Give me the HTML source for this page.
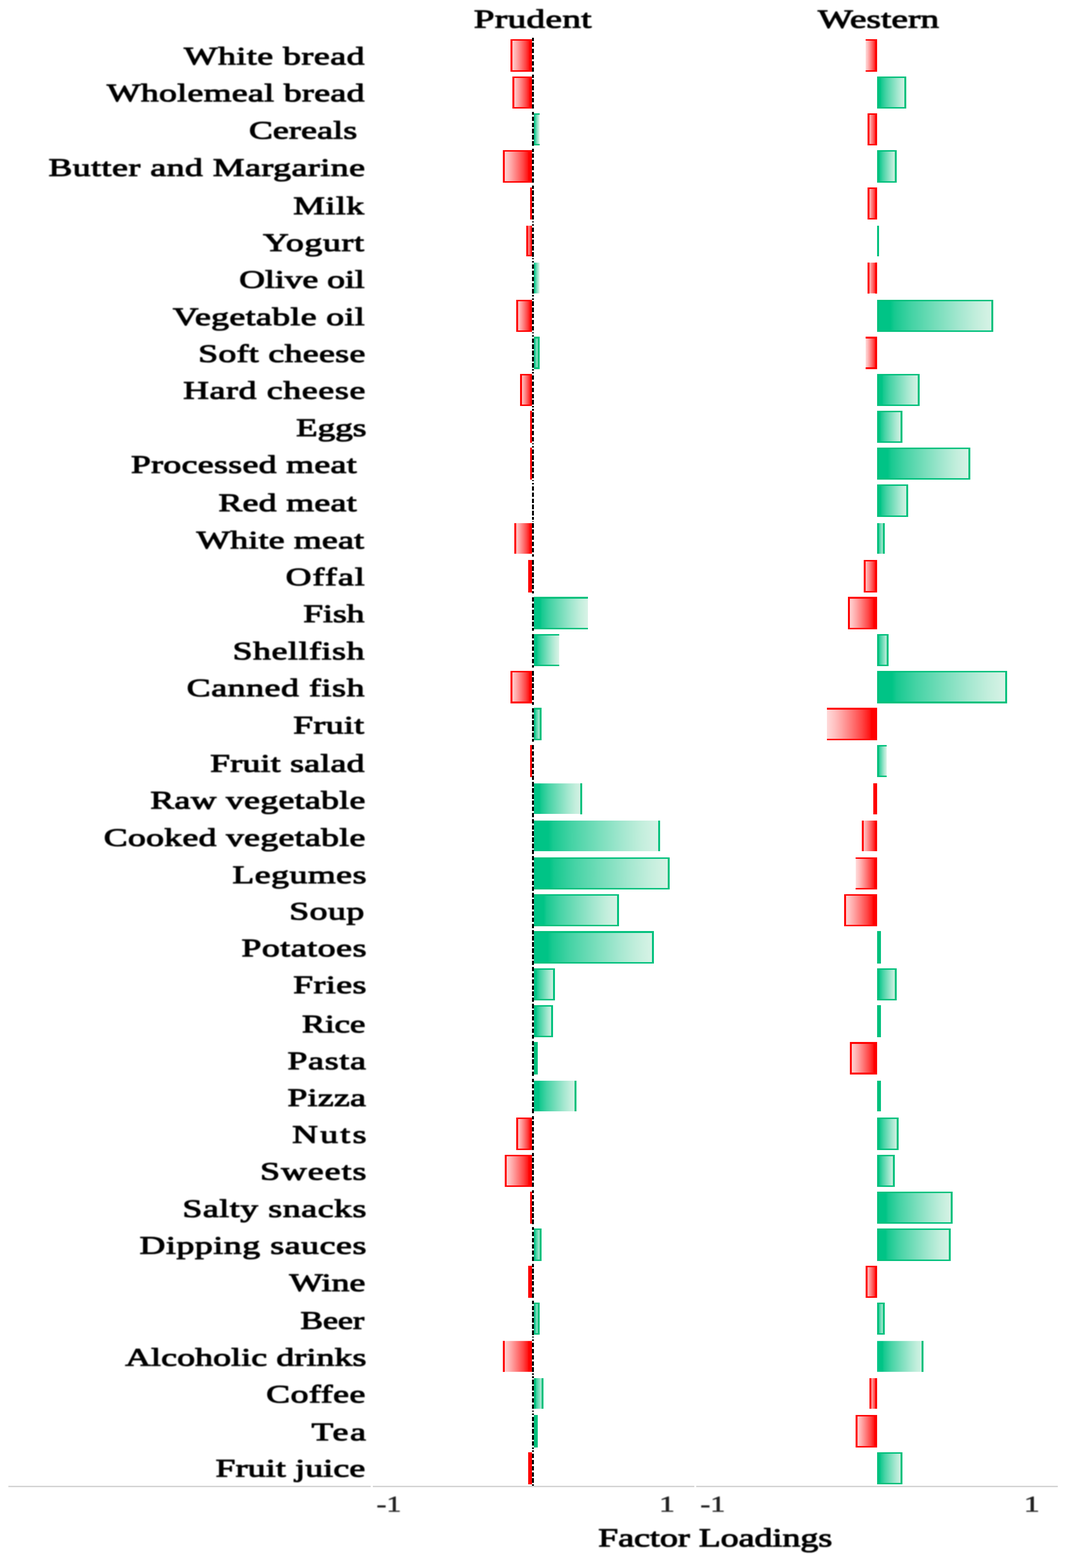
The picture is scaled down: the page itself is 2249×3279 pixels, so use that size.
<!DOCTYPE html>
<html lang="en"><head><meta charset="utf-8"><title>Factor Loadings: Prudent and Western dietary patterns</title>
<style>html,body{margin:0;padding:0;background:#fff}svg{display:block}text{font-family:"Liberation Serif",serif;white-space:pre}.b{font-weight:normal;fill:#000;stroke:#000;stroke-width:1.7px;stroke-linejoin:round}.t{font-weight:normal;fill:#222;stroke:#222;stroke-width:0.9px}</style></head><body>
<svg width="2249" height="3279" viewBox="0 0 2249 3279">
<defs><linearGradient id="g" x1="0" y1="0" x2="1" y2="0"><stop offset="0" stop-color="#00c486"/><stop offset="0.115" stop-color="#00c486"/><stop offset="0.15" stop-color="#17c990"/><stop offset="0.3" stop-color="#45d3a5"/><stop offset="0.5" stop-color="#75ddba"/><stop offset="0.7" stop-color="#a3e7cf"/><stop offset="0.85" stop-color="#c2eedc"/><stop offset="1" stop-color="#daf3e7"/></linearGradient><linearGradient id="r" x1="1" y1="0" x2="0" y2="0"><stop offset="0" stop-color="#ff0000"/><stop offset="0.115" stop-color="#ff0000"/><stop offset="0.15" stop-color="#ff1717"/><stop offset="0.3" stop-color="#ff4545"/><stop offset="0.5" stop-color="#ff7676"/><stop offset="0.7" stop-color="#ffa4a4"/><stop offset="0.85" stop-color="#ffc3c3"/><stop offset="1" stop-color="#ffdbdb"/></linearGradient><filter id="soft" x="-2%" y="-2%" width="104%" height="104%"><feGaussianBlur stdDeviation="1.1"/></filter></defs>
<rect width="2249" height="3279" fill="#fff"/>
<rect x="17.5" y="3107" width="758" height="3" fill="#d4d4d4"/>
<rect x="780" y="3107" width="672.6" height="3" fill="#d4d4d4"/>
<rect x="1456.5" y="3107" width="756.5" height="3" fill="#d4d4d4"/>
<g shape-rendering="crispEdges">
<svg x="1068.2" y="82.1" width="44.8" height="67.9"><rect x="-0" width="44.8" height="67.9" fill="url(#r)"/></svg>
<rect x="1068.2" y="82.1" width="44.8" height="3.2" fill="#ff0000"/>
<rect x="1068.2" y="146.8" width="44.8" height="3.2" fill="#ff0000"/>
<rect x="1068.2" y="82.1" width="4" height="67.9" fill="#ff0000"/>
<svg x="1810.8" y="82.1" width="24.2" height="67.9"><rect x="-0" width="24.2" height="67.9" fill="url(#r)"/></svg>
<rect x="1810.8" y="82.1" width="24.2" height="3.2" fill="#ff0000"/>
<rect x="1810.8" y="146.8" width="24.2" height="3.2" fill="#ff0000"/>
<rect x="1831" y="82.1" width="4" height="67.9" fill="#ff0000"/>
<svg x="1072.2" y="159.9" width="40.8" height="67.2"><rect x="-0" width="40.8" height="67.2" fill="url(#r)"/></svg>
<rect x="1072.2" y="159.9" width="40.8" height="3.2" fill="#ff0000"/>
<rect x="1072.2" y="223.9" width="40.8" height="3.2" fill="#ff0000"/>
<rect x="1072.2" y="159.9" width="4" height="67.2" fill="#ff0000"/>
<svg x="1835" y="159.9" width="60.9" height="67.2"><rect x="0" width="60.9" height="67.2" fill="url(#g)"/></svg>
<rect x="1835" y="159.9" width="60.9" height="3.2" fill="#00c07c"/>
<rect x="1835" y="223.9" width="60.9" height="3.2" fill="#00c07c"/>
<rect x="1835" y="159.9" width="4" height="67.2" fill="#00c07c"/>
<rect x="1891.9" y="159.9" width="4" height="67.2" fill="#00c07c"/>
<svg x="1117" y="237.2" width="11.9" height="67"><rect x="0" width="11.9" height="67" fill="url(#g)"/></svg>
<rect x="1117" y="237.2" width="11.9" height="3.2" fill="#00c07c"/>
<rect x="1117" y="301" width="11.9" height="3.2" fill="#00c07c"/>
<svg x="1814.9" y="237.2" width="20.1" height="67"><rect x="-0" width="20.1" height="67" fill="url(#r)"/></svg>
<rect x="1814.9" y="237.2" width="20.1" height="3.2" fill="#ff0000"/>
<rect x="1814.9" y="301" width="20.1" height="3.2" fill="#ff0000"/>
<rect x="1814.9" y="237.2" width="4" height="67" fill="#ff0000"/>
<rect x="1831" y="237.2" width="4" height="67" fill="#ff0000"/>
<svg x="1052.1" y="314.2" width="60.9" height="67.5"><rect x="-0" width="60.9" height="67.5" fill="url(#r)"/></svg>
<rect x="1052.1" y="314.2" width="60.9" height="3.2" fill="#ff0000"/>
<rect x="1052.1" y="378.5" width="60.9" height="3.2" fill="#ff0000"/>
<rect x="1052.1" y="314.2" width="4" height="67.5" fill="#ff0000"/>
<svg x="1835" y="314.2" width="40.6" height="67.5"><rect x="0" width="40.6" height="67.5" fill="url(#g)"/></svg>
<rect x="1835" y="314.2" width="40.6" height="3.2" fill="#00c07c"/>
<rect x="1835" y="378.5" width="40.6" height="3.2" fill="#00c07c"/>
<rect x="1835" y="314.2" width="4" height="67.5" fill="#00c07c"/>
<rect x="1871.6" y="314.2" width="4" height="67.5" fill="#00c07c"/>
<rect x="1108.8" y="391.7" width="4.2" height="67.3" fill="#ff0000"/>
<svg x="1814.9" y="391.7" width="20.1" height="67.3"><rect x="-0" width="20.1" height="67.3" fill="url(#r)"/></svg>
<rect x="1814.9" y="391.7" width="20.1" height="3.2" fill="#ff0000"/>
<rect x="1814.9" y="455.8" width="20.1" height="3.2" fill="#ff0000"/>
<rect x="1814.9" y="391.7" width="4" height="67.3" fill="#ff0000"/>
<rect x="1831" y="391.7" width="4" height="67.3" fill="#ff0000"/>
<svg x="1100.8" y="472" width="12.2" height="64.3"><rect x="-0" width="12.2" height="64.3" fill="url(#r)"/></svg>
<rect x="1100.8" y="533.1" width="12.2" height="3.2" fill="#ff0000"/>
<rect x="1100.8" y="472" width="4" height="64.3" fill="#ff0000"/>
<rect x="1835" y="472" width="4" height="64.3" fill="#00c07c"/>
<svg x="1117" y="549.3" width="11.9" height="64.3"><rect x="0" width="11.9" height="64.3" fill="url(#g)"/></svg>
<svg x="1814.9" y="549.3" width="20.1" height="64.3"><rect x="-0" width="20.1" height="64.3" fill="url(#r)"/></svg>
<rect x="1814.9" y="549.3" width="4" height="64.3" fill="#ff0000"/>
<rect x="1831" y="549.3" width="4" height="64.3" fill="#ff0000"/>
<svg x="1080.2" y="627" width="32.8" height="67.3"><rect x="-0" width="32.8" height="67.3" fill="url(#r)"/></svg>
<rect x="1080.2" y="627" width="32.8" height="3.2" fill="#ff0000"/>
<rect x="1080.2" y="691.1" width="32.8" height="3.2" fill="#ff0000"/>
<rect x="1080.2" y="627" width="4" height="67.3" fill="#ff0000"/>
<svg x="1835" y="627" width="243.3" height="67.3"><rect x="0" width="243.3" height="67.3" fill="url(#g)"/></svg>
<rect x="1835" y="627" width="243.3" height="3.2" fill="#00c07c"/>
<rect x="1835" y="691.1" width="243.3" height="3.2" fill="#00c07c"/>
<rect x="1835" y="627" width="4" height="67.3" fill="#00c07c"/>
<rect x="2074.3" y="627" width="4" height="67.3" fill="#00c07c"/>
<svg x="1117" y="704.3" width="11.9" height="67.3"><rect x="0" width="11.9" height="67.3" fill="url(#g)"/></svg>
<rect x="1117" y="704.3" width="11.9" height="3.2" fill="#00c07c"/>
<rect x="1117" y="768.4" width="11.9" height="3.2" fill="#00c07c"/>
<rect x="1124.9" y="704.3" width="4" height="67.3" fill="#00c07c"/>
<svg x="1810.8" y="704.3" width="24.2" height="67.3"><rect x="-0" width="24.2" height="67.3" fill="url(#r)"/></svg>
<rect x="1810.8" y="704.3" width="24.2" height="3.2" fill="#ff0000"/>
<rect x="1810.8" y="768.4" width="24.2" height="3.2" fill="#ff0000"/>
<rect x="1831" y="704.3" width="4" height="67.3" fill="#ff0000"/>
<svg x="1088.3" y="781.6" width="24.7" height="67.3"><rect x="-0" width="24.7" height="67.3" fill="url(#r)"/></svg>
<rect x="1088.3" y="781.6" width="24.7" height="3.2" fill="#ff0000"/>
<rect x="1088.3" y="845.7" width="24.7" height="3.2" fill="#ff0000"/>
<rect x="1088.3" y="781.6" width="4" height="67.3" fill="#ff0000"/>
<svg x="1835" y="781.6" width="89" height="67.3"><rect x="0" width="89" height="67.3" fill="url(#g)"/></svg>
<rect x="1835" y="781.6" width="89" height="3.2" fill="#00c07c"/>
<rect x="1835" y="845.7" width="89" height="3.2" fill="#00c07c"/>
<rect x="1835" y="781.6" width="4" height="67.3" fill="#00c07c"/>
<rect x="1920" y="781.6" width="4" height="67.3" fill="#00c07c"/>
<rect x="1108.8" y="858.9" width="4.2" height="67.2" fill="#ff0000"/>
<svg x="1835" y="858.9" width="52.9" height="67.2"><rect x="0" width="52.9" height="67.2" fill="url(#g)"/></svg>
<rect x="1835" y="858.9" width="52.9" height="3.2" fill="#00c07c"/>
<rect x="1835" y="922.9" width="52.9" height="3.2" fill="#00c07c"/>
<rect x="1835" y="858.9" width="4" height="67.2" fill="#00c07c"/>
<rect x="1883.9" y="858.9" width="4" height="67.2" fill="#00c07c"/>
<rect x="1108.8" y="936.2" width="4.2" height="67.2" fill="#ff0000"/>
<svg x="1835" y="936.2" width="194.9" height="67.2"><rect x="0" width="194.9" height="67.2" fill="url(#g)"/></svg>
<rect x="1835" y="936.2" width="194.9" height="3.2" fill="#00c07c"/>
<rect x="1835" y="1000.2" width="194.9" height="3.2" fill="#00c07c"/>
<rect x="1835" y="936.2" width="4" height="67.2" fill="#00c07c"/>
<rect x="2025.9" y="936.2" width="4" height="67.2" fill="#00c07c"/>
<svg x="1835" y="1013.2" width="64.9" height="67.5"><rect x="0" width="64.9" height="67.5" fill="url(#g)"/></svg>
<rect x="1835" y="1013.2" width="64.9" height="3.2" fill="#00c07c"/>
<rect x="1835" y="1077.5" width="64.9" height="3.2" fill="#00c07c"/>
<rect x="1835" y="1013.2" width="4" height="67.5" fill="#00c07c"/>
<rect x="1895.9" y="1013.2" width="4" height="67.5" fill="#00c07c"/>
<svg x="1076.2" y="1093.8" width="36.8" height="64.2"><rect x="-0" width="36.8" height="64.2" fill="url(#r)"/></svg>
<rect x="1076.2" y="1093.8" width="4" height="64.2" fill="#ff0000"/>
<svg x="1835" y="1093.8" width="16.2" height="64.2"><rect x="0" width="16.2" height="64.2" fill="url(#g)"/></svg>
<rect x="1835" y="1093.8" width="4" height="64.2" fill="#00c07c"/>
<rect x="1847.2" y="1093.8" width="4" height="64.2" fill="#00c07c"/>
<rect x="1104.8" y="1171" width="8.2" height="67.7" fill="#ff0000"/>
<svg x="1806.8" y="1171" width="28.2" height="67.7"><rect x="-0" width="28.2" height="67.7" fill="url(#r)"/></svg>
<rect x="1806.8" y="1171" width="28.2" height="3.2" fill="#ff0000"/>
<rect x="1806.8" y="1235.5" width="28.2" height="3.2" fill="#ff0000"/>
<rect x="1806.8" y="1171" width="4" height="67.7" fill="#ff0000"/>
<rect x="1831" y="1171" width="4" height="67.7" fill="#ff0000"/>
<svg x="1117" y="1248.3" width="113.3" height="67.5"><rect x="0" width="113.3" height="67.5" fill="url(#g)"/></svg>
<rect x="1117" y="1248.3" width="113.3" height="3.2" fill="#00c07c"/>
<rect x="1117" y="1312.6" width="113.3" height="3.2" fill="#00c07c"/>
<svg x="1774.2" y="1248.3" width="60.8" height="67.5"><rect x="-0" width="60.8" height="67.5" fill="url(#r)"/></svg>
<rect x="1774.2" y="1248.3" width="60.8" height="3.2" fill="#ff0000"/>
<rect x="1774.2" y="1312.6" width="60.8" height="3.2" fill="#ff0000"/>
<rect x="1774.2" y="1248.3" width="4" height="67.5" fill="#ff0000"/>
<rect x="1831" y="1248.3" width="4" height="67.5" fill="#ff0000"/>
<svg x="1117" y="1325.8" width="52.8" height="67.2"><rect x="0" width="52.8" height="67.2" fill="url(#g)"/></svg>
<rect x="1117" y="1325.8" width="52.8" height="3.2" fill="#00c07c"/>
<rect x="1117" y="1389.8" width="52.8" height="3.2" fill="#00c07c"/>
<svg x="1835" y="1325.8" width="24.3" height="67.2"><rect x="0" width="24.3" height="67.2" fill="url(#g)"/></svg>
<rect x="1835" y="1325.8" width="24.3" height="3.2" fill="#00c07c"/>
<rect x="1835" y="1389.8" width="24.3" height="3.2" fill="#00c07c"/>
<rect x="1835" y="1325.8" width="4" height="67.2" fill="#00c07c"/>
<rect x="1855.3" y="1325.8" width="4" height="67.2" fill="#00c07c"/>
<svg x="1068.2" y="1403" width="44.8" height="67.6"><rect x="-0" width="44.8" height="67.6" fill="url(#r)"/></svg>
<rect x="1068.2" y="1403" width="44.8" height="3.2" fill="#ff0000"/>
<rect x="1068.2" y="1467.4" width="44.8" height="3.2" fill="#ff0000"/>
<rect x="1068.2" y="1403" width="4" height="67.6" fill="#ff0000"/>
<svg x="1835" y="1403" width="271.9" height="67.6"><rect x="0" width="271.9" height="67.6" fill="url(#g)"/></svg>
<rect x="1835" y="1403" width="271.9" height="3.2" fill="#00c07c"/>
<rect x="1835" y="1467.4" width="271.9" height="3.2" fill="#00c07c"/>
<rect x="1835" y="1403" width="4" height="67.6" fill="#00c07c"/>
<rect x="2102.9" y="1403" width="4" height="67.6" fill="#00c07c"/>
<svg x="1117" y="1480.4" width="15.9" height="67.5"><rect x="0" width="15.9" height="67.5" fill="url(#g)"/></svg>
<rect x="1117" y="1480.4" width="15.9" height="3.2" fill="#00c07c"/>
<rect x="1117" y="1544.7" width="15.9" height="3.2" fill="#00c07c"/>
<rect x="1128.9" y="1480.4" width="4" height="67.5" fill="#00c07c"/>
<svg x="1729.5" y="1480.4" width="105.5" height="67.5"><rect x="-0" width="105.5" height="67.5" fill="url(#r)"/></svg>
<rect x="1729.5" y="1480.4" width="105.5" height="3.2" fill="#ff0000"/>
<rect x="1729.5" y="1544.7" width="105.5" height="3.2" fill="#ff0000"/>
<rect x="1108.8" y="1557.9" width="4.2" height="67.3" fill="#ff0000"/>
<svg x="1835" y="1557.9" width="20.3" height="67.3"><rect x="0" width="20.3" height="67.3" fill="url(#g)"/></svg>
<rect x="1835" y="1557.9" width="20.3" height="3.2" fill="#00c07c"/>
<rect x="1835" y="1622" width="20.3" height="3.2" fill="#00c07c"/>
<rect x="1835" y="1557.9" width="4" height="67.3" fill="#00c07c"/>
<svg x="1117" y="1638.2" width="101.2" height="64.3"><rect x="0" width="101.2" height="64.3" fill="url(#g)"/></svg>
<rect x="1214.2" y="1638.2" width="4" height="64.3" fill="#00c07c"/>
<rect x="1826.9" y="1638.2" width="8.1" height="64.3" fill="#ff0000"/>
<svg x="1117" y="1715.6" width="263.8" height="64.4"><rect x="0" width="263.8" height="64.4" fill="url(#g)"/></svg>
<rect x="1376.8" y="1715.6" width="4" height="64.4" fill="#00c07c"/>
<svg x="1802.8" y="1715.6" width="32.2" height="64.4"><rect x="-0" width="32.2" height="64.4" fill="url(#r)"/></svg>
<rect x="1802.8" y="1715.6" width="4" height="64.4" fill="#ff0000"/>
<svg x="1117" y="1792.8" width="283.9" height="67.3"><rect x="0" width="283.9" height="67.3" fill="url(#g)"/></svg>
<rect x="1117" y="1792.8" width="283.9" height="3.2" fill="#00c07c"/>
<rect x="1117" y="1856.9" width="283.9" height="3.2" fill="#00c07c"/>
<rect x="1396.9" y="1792.8" width="4" height="67.3" fill="#00c07c"/>
<svg x="1790.3" y="1792.8" width="44.7" height="67.3"><rect x="-0" width="44.7" height="67.3" fill="url(#r)"/></svg>
<rect x="1790.3" y="1792.8" width="44.7" height="3.2" fill="#ff0000"/>
<rect x="1790.3" y="1856.9" width="44.7" height="3.2" fill="#ff0000"/>
<rect x="1831" y="1792.8" width="4" height="67.3" fill="#ff0000"/>
<svg x="1117" y="1870.1" width="178" height="67.3"><rect x="0" width="178" height="67.3" fill="url(#g)"/></svg>
<rect x="1117" y="1870.1" width="178" height="3.2" fill="#00c07c"/>
<rect x="1117" y="1934.2" width="178" height="3.2" fill="#00c07c"/>
<rect x="1291" y="1870.1" width="4" height="67.3" fill="#00c07c"/>
<svg x="1766.2" y="1870.1" width="68.8" height="67.3"><rect x="-0" width="68.8" height="67.3" fill="url(#r)"/></svg>
<rect x="1766.2" y="1870.1" width="68.8" height="3.2" fill="#ff0000"/>
<rect x="1766.2" y="1934.2" width="68.8" height="3.2" fill="#ff0000"/>
<rect x="1766.2" y="1870.1" width="4" height="67.3" fill="#ff0000"/>
<rect x="1831" y="1870.1" width="4" height="67.3" fill="#ff0000"/>
<svg x="1117" y="1947.4" width="251.3" height="67.5"><rect x="0" width="251.3" height="67.5" fill="url(#g)"/></svg>
<rect x="1117" y="1947.4" width="251.3" height="3.2" fill="#00c07c"/>
<rect x="1117" y="2011.7" width="251.3" height="3.2" fill="#00c07c"/>
<rect x="1364.3" y="1947.4" width="4" height="67.5" fill="#00c07c"/>
<rect x="1835" y="1947.4" width="8" height="67.5" fill="#00c07c"/>
<svg x="1117" y="2025" width="44.3" height="67"><rect x="0" width="44.3" height="67" fill="url(#g)"/></svg>
<rect x="1117" y="2025" width="44.3" height="3.2" fill="#00c07c"/>
<rect x="1117" y="2088.8" width="44.3" height="3.2" fill="#00c07c"/>
<rect x="1157.3" y="2025" width="4" height="67" fill="#00c07c"/>
<svg x="1835" y="2025" width="40.6" height="67"><rect x="0" width="40.6" height="67" fill="url(#g)"/></svg>
<rect x="1835" y="2025" width="40.6" height="3.2" fill="#00c07c"/>
<rect x="1835" y="2088.8" width="40.6" height="3.2" fill="#00c07c"/>
<rect x="1835" y="2025" width="4" height="67" fill="#00c07c"/>
<rect x="1871.6" y="2025" width="4" height="67" fill="#00c07c"/>
<svg x="1117" y="2102" width="40.3" height="67.3"><rect x="0" width="40.3" height="67.3" fill="url(#g)"/></svg>
<rect x="1117" y="2102" width="40.3" height="3.2" fill="#00c07c"/>
<rect x="1117" y="2166.1" width="40.3" height="3.2" fill="#00c07c"/>
<rect x="1153.3" y="2102" width="4" height="67.3" fill="#00c07c"/>
<rect x="1835" y="2102" width="8" height="67.3" fill="#00c07c"/>
<rect x="1117" y="2179.3" width="7.9" height="67.2" fill="#00c07c"/>
<svg x="1778.2" y="2179.3" width="56.8" height="67.2"><rect x="-0" width="56.8" height="67.2" fill="url(#r)"/></svg>
<rect x="1778.2" y="2179.3" width="56.8" height="3.2" fill="#ff0000"/>
<rect x="1778.2" y="2243.3" width="56.8" height="3.2" fill="#ff0000"/>
<rect x="1778.2" y="2179.3" width="4" height="67.2" fill="#ff0000"/>
<rect x="1831" y="2179.3" width="4" height="67.2" fill="#ff0000"/>
<svg x="1117" y="2259.8" width="89" height="64.5"><rect x="0" width="89" height="64.5" fill="url(#g)"/></svg>
<rect x="1202" y="2259.8" width="4" height="64.5" fill="#00c07c"/>
<rect x="1835" y="2259.8" width="8" height="64.5" fill="#00c07c"/>
<svg x="1080.2" y="2337.1" width="32.8" height="67.8"><rect x="-0" width="32.8" height="67.8" fill="url(#r)"/></svg>
<rect x="1080.2" y="2337.1" width="32.8" height="3.2" fill="#ff0000"/>
<rect x="1080.2" y="2401.7" width="32.8" height="3.2" fill="#ff0000"/>
<rect x="1080.2" y="2337.1" width="4" height="67.8" fill="#ff0000"/>
<svg x="1835" y="2337.1" width="44.6" height="67.8"><rect x="0" width="44.6" height="67.8" fill="url(#g)"/></svg>
<rect x="1835" y="2337.1" width="44.6" height="3.2" fill="#00c07c"/>
<rect x="1835" y="2401.7" width="44.6" height="3.2" fill="#00c07c"/>
<rect x="1835" y="2337.1" width="4" height="67.8" fill="#00c07c"/>
<rect x="1875.6" y="2337.1" width="4" height="67.8" fill="#00c07c"/>
<svg x="1056.1" y="2414.7" width="56.9" height="67.5"><rect x="-0" width="56.9" height="67.5" fill="url(#r)"/></svg>
<rect x="1056.1" y="2414.7" width="56.9" height="3.2" fill="#ff0000"/>
<rect x="1056.1" y="2479" width="56.9" height="3.2" fill="#ff0000"/>
<rect x="1056.1" y="2414.7" width="4" height="67.5" fill="#ff0000"/>
<svg x="1835" y="2414.7" width="36.6" height="67.5"><rect x="0" width="36.6" height="67.5" fill="url(#g)"/></svg>
<rect x="1835" y="2414.7" width="36.6" height="3.2" fill="#00c07c"/>
<rect x="1835" y="2479" width="36.6" height="3.2" fill="#00c07c"/>
<rect x="1835" y="2414.7" width="4" height="67.5" fill="#00c07c"/>
<rect x="1867.6" y="2414.7" width="4" height="67.5" fill="#00c07c"/>
<rect x="1108.8" y="2492" width="4.2" height="67.4" fill="#ff0000"/>
<svg x="1835" y="2492" width="158.3" height="67.4"><rect x="0" width="158.3" height="67.4" fill="url(#g)"/></svg>
<rect x="1835" y="2492" width="158.3" height="3.2" fill="#00c07c"/>
<rect x="1835" y="2556.2" width="158.3" height="3.2" fill="#00c07c"/>
<rect x="1835" y="2492" width="4" height="67.4" fill="#00c07c"/>
<rect x="1989.3" y="2492" width="4" height="67.4" fill="#00c07c"/>
<svg x="1117" y="2569.2" width="15.9" height="67.5"><rect x="0" width="15.9" height="67.5" fill="url(#g)"/></svg>
<rect x="1117" y="2569.2" width="15.9" height="3.2" fill="#00c07c"/>
<rect x="1117" y="2633.5" width="15.9" height="3.2" fill="#00c07c"/>
<rect x="1128.9" y="2569.2" width="4" height="67.5" fill="#00c07c"/>
<svg x="1835" y="2569.2" width="154.3" height="67.5"><rect x="0" width="154.3" height="67.5" fill="url(#g)"/></svg>
<rect x="1835" y="2569.2" width="154.3" height="3.2" fill="#00c07c"/>
<rect x="1835" y="2633.5" width="154.3" height="3.2" fill="#00c07c"/>
<rect x="1835" y="2569.2" width="4" height="67.5" fill="#00c07c"/>
<rect x="1985.3" y="2569.2" width="4" height="67.5" fill="#00c07c"/>
<rect x="1104.8" y="2646.5" width="8.2" height="67.5" fill="#ff0000"/>
<svg x="1810.8" y="2646.5" width="24.2" height="67.5"><rect x="-0" width="24.2" height="67.5" fill="url(#r)"/></svg>
<rect x="1810.8" y="2646.5" width="24.2" height="3.2" fill="#ff0000"/>
<rect x="1810.8" y="2710.8" width="24.2" height="3.2" fill="#ff0000"/>
<rect x="1810.8" y="2646.5" width="4" height="67.5" fill="#ff0000"/>
<rect x="1831" y="2646.5" width="4" height="67.5" fill="#ff0000"/>
<svg x="1117" y="2723.8" width="11.9" height="67.5"><rect x="0" width="11.9" height="67.5" fill="url(#g)"/></svg>
<rect x="1117" y="2723.8" width="11.9" height="3.2" fill="#00c07c"/>
<rect x="1117" y="2788.1" width="11.9" height="3.2" fill="#00c07c"/>
<rect x="1124.9" y="2723.8" width="4" height="67.5" fill="#00c07c"/>
<svg x="1835" y="2723.8" width="16.2" height="67.5"><rect x="0" width="16.2" height="67.5" fill="url(#g)"/></svg>
<rect x="1835" y="2723.8" width="16.2" height="3.2" fill="#00c07c"/>
<rect x="1835" y="2788.1" width="16.2" height="3.2" fill="#00c07c"/>
<rect x="1835" y="2723.8" width="4" height="67.5" fill="#00c07c"/>
<rect x="1847.2" y="2723.8" width="4" height="67.5" fill="#00c07c"/>
<svg x="1052.1" y="2804.3" width="60.9" height="64.5"><rect x="-0" width="60.9" height="64.5" fill="url(#r)"/></svg>
<rect x="1052.1" y="2804.3" width="4" height="64.5" fill="#ff0000"/>
<svg x="1835" y="2804.3" width="97.3" height="64.5"><rect x="0" width="97.3" height="64.5" fill="url(#g)"/></svg>
<rect x="1928.3" y="2804.3" width="4" height="64.5" fill="#00c07c"/>
<svg x="1117" y="2881.9" width="20.2" height="64.2"><rect x="0" width="20.2" height="64.2" fill="url(#g)"/></svg>
<rect x="1117" y="2881.9" width="4" height="64.2" fill="#00c07c"/>
<rect x="1133.2" y="2881.9" width="4" height="64.2" fill="#00c07c"/>
<svg x="1818.9" y="2881.9" width="16.1" height="64.2"><rect x="-0" width="16.1" height="64.2" fill="url(#r)"/></svg>
<rect x="1818.9" y="2881.9" width="4" height="64.2" fill="#ff0000"/>
<rect x="1831" y="2881.9" width="4" height="64.2" fill="#ff0000"/>
<rect x="1117" y="2959.2" width="7.9" height="67.5" fill="#00c07c"/>
<svg x="1790.3" y="2959.2" width="44.7" height="67.5"><rect x="-0" width="44.7" height="67.5" fill="url(#r)"/></svg>
<rect x="1790.3" y="2959.2" width="44.7" height="3.2" fill="#ff0000"/>
<rect x="1790.3" y="3023.5" width="44.7" height="3.2" fill="#ff0000"/>
<rect x="1790.3" y="2959.2" width="4" height="67.5" fill="#ff0000"/>
<rect x="1831" y="2959.2" width="4" height="67.5" fill="#ff0000"/>
<rect x="1104.8" y="3036.5" width="8.2" height="67.5" fill="#ff0000"/>
<svg x="1835" y="3036.5" width="52.9" height="67.5"><rect x="0" width="52.9" height="67.5" fill="url(#g)"/></svg>
<rect x="1835" y="3036.5" width="52.9" height="3.2" fill="#00c07c"/>
<rect x="1835" y="3100.8" width="52.9" height="3.2" fill="#00c07c"/>
<rect x="1835" y="3036.5" width="4" height="67.5" fill="#00c07c"/>
<rect x="1883.9" y="3036.5" width="4" height="67.5" fill="#00c07c"/>
<path d="M1113 78.6h4v6.97h-4zM1113 89.06h4v9.4h-4zM1113 101.94h4v9.4h-4zM1113 114.83h4v9.4h-4zM1113 127.71h4v9.4h-4zM1113 140.6h4v9.4h-4zM1113 156.4h4v6.49h-4zM1113 166.37h4v9.4h-4zM1113 179.26h4v9.4h-4zM1113 192.14h4v9.4h-4zM1113 205.03h4v9.4h-4zM1113 217.91h4v9.4h-4zM1113 233.7h4v6.5h-4zM1113 243.68h4v9.4h-4zM1113 256.57h4v9.4h-4zM1113 269.46h4v9.4h-4zM1113 282.34h4v9.4h-4zM1113 295.23h4v9.4h-4zM1113 310.7h4v6.81h-4zM1113 321h4v9.4h-4zM1113 333.88h4v9.4h-4zM1113 346.77h4v9.4h-4zM1113 359.66h4v9.4h-4zM1113 372.54h4v9.4h-4zM1113 388.2h4v6.63h-4zM1113 398.31h4v9.4h-4zM1113 411.2h4v9.4h-4zM1113 424.08h4v9.4h-4zM1113 436.97h4v9.4h-4zM1113 449.85h4v9.4h-4zM1113 462.74h4v2.36h-4zM1113 468.5h4v3.64h-4zM1113 475.63h4v9.4h-4zM1113 488.51h4v9.4h-4zM1113 501.4h4v9.4h-4zM1113 514.28h4v9.4h-4zM1113 527.17h4v9.4h-4zM1113 540.05h4v2.35h-4zM1113 545.8h4v3.65h-4zM1113 552.94h4v9.4h-4zM1113 565.82h4v9.4h-4zM1113 578.71h4v9.4h-4zM1113 591.6h4v9.4h-4zM1113 604.48h4v9.4h-4zM1113 617.37h4v2.73h-4zM1113 623.5h4v3.27h-4zM1113 630.25h4v9.4h-4zM1113 643.14h4v9.4h-4zM1113 656.02h4v9.4h-4zM1113 668.91h4v9.4h-4zM1113 681.8h4v9.4h-4zM1113 694.68h4v2.72h-4zM1113 700.8h4v3.28h-4zM1113 707.57h4v9.4h-4zM1113 720.45h4v9.4h-4zM1113 733.34h4v9.4h-4zM1113 746.22h4v9.4h-4zM1113 759.11h4v9.4h-4zM1113 771.99h4v2.71h-4zM1113 778.1h4v3.29h-4zM1113 784.88h4v9.4h-4zM1113 797.77h4v9.4h-4zM1113 810.65h4v9.4h-4zM1113 823.54h4v9.4h-4zM1113 836.42h4v9.4h-4zM1113 849.31h4v2.69h-4zM1113 855.4h4v3.31h-4zM1113 862.19h4v9.4h-4zM1113 875.08h4v9.4h-4zM1113 887.96h4v9.4h-4zM1113 900.85h4v9.4h-4zM1113 913.74h4v9.4h-4zM1113 926.62h4v2.68h-4zM1113 932.7h4v3.32h-4zM1113 939.51h4v9.4h-4zM1113 952.39h4v9.4h-4zM1113 965.28h4v9.4h-4zM1113 978.16h4v9.4h-4zM1113 991.05h4v9.4h-4zM1113 1003.94h4v2.36h-4zM1113 1009.7h4v3.64h-4zM1113 1016.82h4v9.4h-4zM1113 1029.71h4v9.4h-4zM1113 1042.59h4v9.4h-4zM1113 1055.48h4v9.4h-4zM1113 1068.36h4v9.4h-4zM1113 1081.25h4v5.65h-4zM1113 1090.3h4v0.35h-4zM1113 1094.13h4v9.4h-4zM1113 1107.02h4v9.4h-4zM1113 1119.91h4v9.4h-4zM1113 1132.79h4v9.4h-4zM1113 1145.68h4v9.4h-4zM1113 1158.56h4v5.54h-4zM1113 1167.5h4v0.46h-4zM1113 1171.45h4v9.4h-4zM1113 1184.33h4v9.4h-4zM1113 1197.22h4v9.4h-4zM1113 1210.1h4v9.4h-4zM1113 1222.99h4v9.4h-4zM1113 1235.88h4v5.52h-4zM1113 1244.8h4v0.48h-4zM1113 1248.76h4v9.4h-4zM1113 1261.65h4v9.4h-4zM1113 1274.53h4v9.4h-4zM1113 1287.42h4v9.4h-4zM1113 1300.3h4v9.4h-4zM1113 1313.19h4v5.71h-4zM1113 1326.08h4v9.4h-4zM1113 1338.96h4v9.4h-4zM1113 1351.85h4v9.4h-4zM1113 1364.73h4v9.4h-4zM1113 1377.62h4v9.4h-4zM1113 1390.5h4v5.6h-4zM1113 1399.5h4v0.4h-4zM1113 1403.39h4v9.4h-4zM1113 1416.27h4v9.4h-4zM1113 1429.16h4v9.4h-4zM1113 1442.05h4v9.4h-4zM1113 1454.93h4v9.4h-4zM1113 1467.82h4v5.68h-4zM1113 1476.9h4v0.32h-4zM1113 1480.7h4v9.4h-4zM1113 1493.59h4v9.4h-4zM1113 1506.47h4v9.4h-4zM1113 1519.36h4v9.4h-4zM1113 1532.24h4v9.4h-4zM1113 1545.13h4v5.87h-4zM1113 1558.02h4v9.4h-4zM1113 1570.9h4v9.4h-4zM1113 1583.79h4v9.4h-4zM1113 1596.67h4v9.4h-4zM1113 1609.56h4v9.4h-4zM1113 1622.44h4v8.86h-4zM1113 1635.33h4v9.4h-4zM1113 1648.22h4v9.4h-4zM1113 1661.1h4v9.4h-4zM1113 1673.99h4v9.4h-4zM1113 1686.87h4v9.4h-4zM1113 1699.76h4v8.94h-4zM1113 1712.64h4v9.4h-4zM1113 1725.53h4v9.4h-4zM1113 1738.41h4v9.4h-4zM1113 1751.3h4v9.4h-4zM1113 1764.19h4v9.4h-4zM1113 1777.07h4v8.83h-4zM1113 1789.96h4v9.4h-4zM1113 1802.84h4v9.4h-4zM1113 1815.73h4v9.4h-4zM1113 1828.61h4v9.4h-4zM1113 1841.5h4v9.4h-4zM1113 1854.38h4v8.82h-4zM1113 1867.27h4v9.4h-4zM1113 1880.16h4v9.4h-4zM1113 1893.04h4v9.4h-4zM1113 1905.93h4v9.4h-4zM1113 1918.81h4v9.4h-4zM1113 1931.7h4v8.8h-4zM1113 1944.58h4v9.4h-4zM1113 1957.47h4v9.4h-4zM1113 1970.36h4v9.4h-4zM1113 1983.24h4v9.4h-4zM1113 1996.13h4v9.4h-4zM1113 2009.01h4v9.09h-4zM1113 2021.9h4v9.4h-4zM1113 2034.78h4v9.4h-4zM1113 2047.67h4v9.4h-4zM1113 2060.55h4v9.4h-4zM1113 2073.44h4v9.4h-4zM1113 2086.33h4v8.77h-4zM1113 2099.21h4v9.4h-4zM1113 2112.1h4v9.4h-4zM1113 2124.98h4v9.4h-4zM1113 2137.87h4v9.4h-4zM1113 2150.75h4v9.4h-4zM1113 2163.64h4v8.76h-4zM1113 2176.52h4v9.4h-4zM1113 2189.41h4v9.4h-4zM1113 2202.3h4v9.4h-4zM1113 2215.18h4v9.4h-4zM1113 2228.07h4v9.4h-4zM1113 2240.95h4v9.4h-4zM1113 2256.3h4v6.94h-4zM1113 2266.72h4v9.4h-4zM1113 2279.61h4v9.4h-4zM1113 2292.5h4v9.4h-4zM1113 2305.38h4v9.4h-4zM1113 2318.27h4v9.4h-4zM1113 2333.6h4v6.95h-4zM1113 2344.04h4v9.4h-4zM1113 2356.92h4v9.4h-4zM1113 2369.81h4v9.4h-4zM1113 2382.69h4v9.4h-4zM1113 2395.58h4v9.4h-4zM1113 2411.2h4v6.67h-4zM1113 2421.35h4v9.4h-4zM1113 2434.24h4v9.4h-4zM1113 2447.12h4v9.4h-4zM1113 2460.01h4v9.4h-4zM1113 2472.89h4v9.4h-4zM1113 2488.5h4v6.68h-4zM1113 2498.66h4v9.4h-4zM1113 2511.55h4v9.4h-4zM1113 2524.44h4v9.4h-4zM1113 2537.32h4v9.4h-4zM1113 2550.21h4v9.4h-4zM1113 2565.7h4v6.79h-4zM1113 2575.98h4v9.4h-4zM1113 2588.86h4v9.4h-4zM1113 2601.75h4v9.4h-4zM1113 2614.64h4v9.4h-4zM1113 2627.52h4v9.4h-4zM1113 2643h4v6.81h-4zM1113 2653.29h4v9.4h-4zM1113 2666.18h4v9.4h-4zM1113 2679.06h4v9.4h-4zM1113 2691.95h4v9.4h-4zM1113 2704.83h4v9.4h-4zM1113 2720.3h4v6.82h-4zM1113 2730.61h4v9.4h-4zM1113 2743.49h4v9.4h-4zM1113 2756.38h4v9.4h-4zM1113 2769.26h4v9.4h-4zM1113 2782.15h4v9.4h-4zM1113 2795.03h4v2.37h-4zM1113 2800.8h4v3.63h-4zM1113 2807.92h4v9.4h-4zM1113 2820.8h4v9.4h-4zM1113 2833.69h4v9.4h-4zM1113 2846.58h4v9.4h-4zM1113 2859.46h4v9.4h-4zM1113 2872.35h4v2.65h-4zM1113 2878.4h4v3.35h-4zM1113 2885.23h4v9.4h-4zM1113 2898.12h4v9.4h-4zM1113 2911h4v9.4h-4zM1113 2923.89h4v9.4h-4zM1113 2936.78h4v9.4h-4zM1113 2949.66h4v2.64h-4zM1113 2955.7h4v3.36h-4zM1113 2962.55h4v9.4h-4zM1113 2975.43h4v9.4h-4zM1113 2988.32h4v9.4h-4zM1113 3001.2h4v9.4h-4zM1113 3014.09h4v9.4h-4zM1113 3026.97h4v2.63h-4zM1113 3033h4v3.37h-4zM1113 3039.86h4v9.4h-4zM1113 3052.75h4v9.4h-4zM1113 3065.63h4v9.4h-4zM1113 3078.52h4v9.4h-4zM1113 3091.4h4v9.4h-4zM1113 3104.29h4v2.71h-4z" fill="#000"/>
</g>
<g filter="url(#soft)">
<text class="b" font-size="52.46" letter-spacing="0.83" transform="translate(384.71 134.95) scale(1.4200 1)">White bread</text>
<text class="b" font-size="52.46" letter-spacing="0.59" transform="translate(223.51 212.15) scale(1.4200 1)">Wholemeal bread</text>
<text class="b" font-size="52.46" letter-spacing="0.34" transform="translate(520.93 289.85) scale(1.4200 1)">Cereals</text>
<text class="b" font-size="52.46" letter-spacing="0.83" transform="translate(101.42 368.05) scale(1.4200 1)">Butter and Margarine</text>
<text class="b" font-size="52.46" letter-spacing="0.77" transform="translate(613.62 447.95) scale(1.4200 1)">Milk</text>
<text class="b" font-size="52.46" letter-spacing="1.10" transform="translate(550.26 525.15) scale(1.4200 1)">Yogurt</text>
<text class="b" font-size="52.46" transform="translate(500.53 602.15) scale(1.4190 1)">Olive oil</text>
<text class="b" font-size="52.46" letter-spacing="0.63" transform="translate(361.46 679.85) scale(1.4200 1)">Vegetable oil</text>
<text class="b" font-size="52.46" letter-spacing="0.59" transform="translate(414.64 756.65) scale(1.4200 1)">Soft cheese</text>
<text class="b" font-size="52.46" letter-spacing="1.06" transform="translate(383.22 834.35) scale(1.4200 1)">Hard cheese</text>
<text class="b" font-size="52.46" transform="translate(619.52 911.55) scale(1.4023 1)">Eggs</text>
<text class="b" font-size="52.46" letter-spacing="0.60" transform="translate(273.92 989.25) scale(1.4200 1)">Processed meat</text>
<text class="b" font-size="52.46" letter-spacing="0.60" transform="translate(456.92 1069.45) scale(1.4200 1)">Red meat</text>
<text class="b" font-size="52.46" letter-spacing="0.42" transform="translate(410.91 1146.75) scale(1.4200 1)">White meat</text>
<text class="b" font-size="52.46" letter-spacing="1.70" transform="translate(597.63 1223.55) scale(1.4200 1)">Offal</text>
<text class="b" font-size="52.46" transform="translate(634.42 1301.15) scale(1.4173 1)">Fish</text>
<text class="b" font-size="52.46" letter-spacing="0.95" transform="translate(486.84 1378.85) scale(1.4200 1)">Shellfish</text>
<text class="b" font-size="52.46" letter-spacing="0.97" transform="translate(390.83 1455.65) scale(1.4200 1)">Canned fish</text>
<text class="b" font-size="52.46" letter-spacing="0.55" transform="translate(613.62 1533.85) scale(1.4200 1)">Fruit</text>
<text class="b" font-size="52.46" letter-spacing="0.44" transform="translate(439.72 1613.95) scale(1.4200 1)">Fruit salad</text>
<text class="b" font-size="52.46" letter-spacing="0.54" transform="translate(314.62 1690.75) scale(1.4200 1)">Raw vegetable</text>
<text class="b" font-size="52.46" letter-spacing="0.53" transform="translate(217.33 1768.95) scale(1.4200 1)">Cooked vegetable</text>
<text class="b" font-size="52.46" letter-spacing="0.87" transform="translate(486.22 1846.55) scale(1.4200 1)">Legumes</text>
<text class="b" font-size="52.46" letter-spacing="0.85" transform="translate(605.24 1923.35) scale(1.4200 1)">Soup</text>
<text class="b" font-size="52.46" letter-spacing="0.91" transform="translate(505.22 2000.15) scale(1.4200 1)">Potatoes</text>
<text class="b" font-size="52.46" letter-spacing="0.71" transform="translate(613.62 2077.45) scale(1.4200 1)">Fries</text>
<text class="b" font-size="52.46" transform="translate(631.73 2158.55) scale(1.3788 1)">Rice</text>
<text class="b" font-size="52.46" letter-spacing="1.23" transform="translate(601.42 2235.75) scale(1.4200 1)">Pasta</text>
<text class="b" font-size="52.46" letter-spacing="0.52" transform="translate(601.42 2313.45) scale(1.4200 1)">Pizza</text>
<text class="b" font-size="52.46" letter-spacing="3.43" transform="translate(611.32 2390.25) scale(1.4200 1)">Nuts</text>
<text class="b" font-size="52.46" letter-spacing="1.60" transform="translate(544.24 2467.05) scale(1.4200 1)">Sweets</text>
<text class="b" font-size="52.46" letter-spacing="0.94" transform="translate(381.64 2544.65) scale(1.4200 1)">Salty snacks</text>
<text class="b" font-size="52.46" letter-spacing="0.94" transform="translate(292.02 2621.95) scale(1.4200 1)">Dipping sauces</text>
<text class="b" font-size="52.46" letter-spacing="0.18" transform="translate(605.21 2699.85) scale(1.4200 1)">Wine</text>
<text class="b" font-size="52.46" transform="translate(628.53 2778.85) scale(1.3484 1)">Beer</text>
<text class="b" font-size="52.46" letter-spacing="0.29" transform="translate(261.91 2855.65) scale(1.4200 1)">Alcoholic drinks</text>
<text class="b" font-size="52.46" letter-spacing="0.84" transform="translate(557.03 2933.35) scale(1.4200 1)">Coffee</text>
<text class="b" font-size="52.46" letter-spacing="2.60" transform="translate(651.86 3011.55) scale(1.4200 1)">Tea</text>
<text class="b" font-size="52.46" letter-spacing="0.35" transform="translate(451.02 3088.35) scale(1.4200 1)">Fruit juice</text>
<text class="b" font-size="54.62" letter-spacing="0.59" transform="translate(991.36 58.15) scale(1.4200 1)">Prudent</text>
<text class="b" font-size="54.62" letter-spacing="0.18" transform="translate(1710.91 58.15) scale(1.4200 1)">Western</text>
<text class="b" font-size="54.62" transform="translate(1251.57 3234.35) scale(1.3735 1)">Factor Loadings</text>
<text class="t" font-size="47.12" transform="translate(787.73 3160.95) scale(1.3171 1)">-1</text>
<text class="t" font-size="47.12" transform="translate(1378.74 3160.95) scale(1.4051 1)">1</text>
<text class="t" font-size="47.12" transform="translate(1465.32 3160.95) scale(1.3255 1)">-1</text>
<text class="t" font-size="47.12" transform="translate(2141.94 3160.95) scale(1.4051 1)">1</text>
</g>
</svg></body></html>
